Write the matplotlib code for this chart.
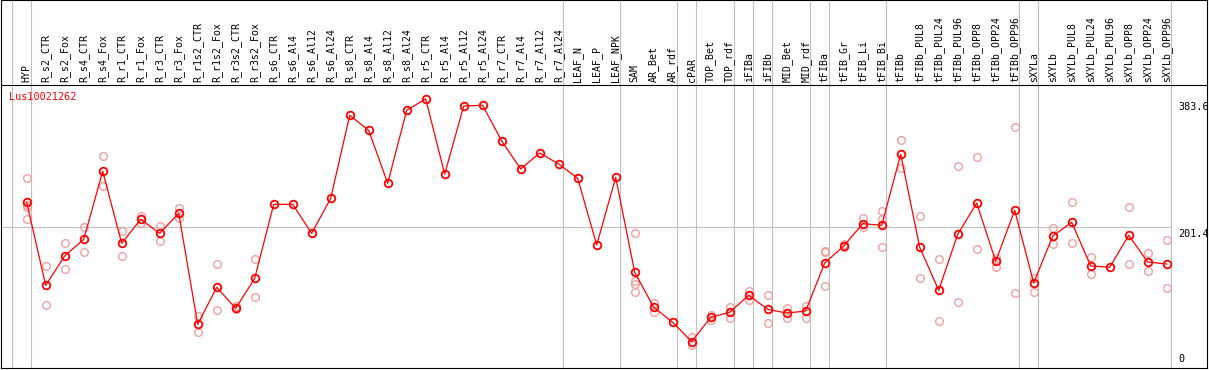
import numpy as np
import matplotlib
matplotlib.use("Agg")
import matplotlib.pyplot as plt

plt.rcParams["font.family"] = ["DejaVu Sans Mono"]

# 样本名称
categories = [
    "HYP", "R_s2_CTR", "R_s2_Fox", "R_s4_CTR", "R_s4_Fox", "R_r1_CTR", "R_r1_Fox",
    "R_r3_CTR", "R_r3_Fox", "R_r1s2_CTR", "R_r1s2_Fox", "R_r3s2_CTR", "R_r3s2_Fox",
    "R_s6_CTR", "R_s6_Al4", "R_s6_Al12", "R_s6_Al24", "R_s8_CTR", "R_s8_Al4",
    "R_s8_Al12", "R_s8_Al24", "R_r5_CTR", "R_r5_Al4", "R_r5_Al12", "R_r5_Al24",
    "R_r7_CTR", "R_r7_Al4", "R_r7_Al12", "R_r7_Al24", "LEAF_N", "LEAF_P", "LEAF_NPK",
    "SAM", "AR_Bet", "AR_rdf", "cPAR", "TOP_Bet", "TOP_rdf", "iFIBa", "iFIBb",
    "MID_Bet", "MID_rdf", "tFIBa", "tFIB_Gr", "tFIB_Li", "tFIB_Bi", "tFIBb",
    "tFIBb_PUL8", "tFIBb_PUL24", "tFIBb_PUL96", "tFIBb_OPP8", "tFIBb_OPP24",
    "tFIBb_OPP96", "sXYLa", "sXYLb", "sXYLb_PUL8", "sXYLb_PUL24", "sXYLb_PUL96",
    "sXYLb_OPP8", "sXYLb_OPP24", "sXYLb_OPP96",
]

# 平均值
means = [
    237, 119.3, 160.9, 184.5, 280.9, 178.9, 212.9, 193, 221.4, 64, 116.5, 86.7, 129.2,
    234.1, 234.1, 193, 242.6, 360.3, 339, 263.9, 367.4, 383.6, 277, 373.5, 374.5,
    323.9, 284.2, 306.9, 291.3, 271, 176.5, 272.4,
    137.8, 88.2, 66.9, 39.4, 74, 81, 105.2, 85.3, 80, 82.9,
    151, 175, 206.7, 204.4, 305, 173.2, 112.3, 191.6, 236, 153.4, 225.7,
    122.6, 189.2, 208.6, 146.7, 144.9, 190.2, 152.4, 149.5,
]

# 重复样本值
reps = [
    [272, 233, 230, 214],
    [146.7, 91.4],
    [178.9, 142],
    [201.5, 166.1],
    [302.2, 259.7],
    [195.9, 160.4],
    [218, 207],
    [203.4, 181.7],
    [229.4, 214.3],
    [75.8, 52.7],
    [149.5, 84.3],
    [90, 86],
    [156.2, 102.3],
    [], [], [], [], [], [], [], [], [], [], [], [], [], [], [], [], [], [], [],
    [194, 125.4, 120.7, 109.4],
    [94.7, 81],
    [],
    [46.5, 34.7],
    [77, 70],
    [88.6, 72.5],
    [111.7, 99],
    [105.2, 65.5],
    [87.2, 73],
    [90, 73.4],
    [168, 166, 119],
    [178.3, 174],
    [214.3, 202],
    [224.7, 212.9, 173.2],
    [324.9, 285.2],
    [217.6, 129.2],
    [156.2, 68.7],
    [288, 95.7],
    [300.8, 170.8],
    [158.5, 145.8],
    [343.3, 108.4],
    [130.2, 109.9],
    [201, 177.9],
    [237, 178.9],
    [159, 134.9],
    [],
    [229.9, 149.5],
    [164.7, 139.2],
    [183.1, 115.1],
]

# 分组边界（在该索引之后）
group_ends = [-1, 0, 28, 31, 34, 35, 37, 38, 39, 41, 42, 45, 52, 53, 60]
y_ticks = [0, 201.4, 383.6]
title = "Lus10021262"

W, H = 1209, 370
fig = plt.figure(figsize=(W / 100, H / 100), dpi=100)
ax = fig.add_axes([1 / W, 2 / H, 1206 / W, 368 / H])

# 像素 -> 数据
def ypx(p):
    return (369.5 - p) / 0.7055

x = np.arange(len(categories))
ax.set_xlim((1 - 26.7) / 19, (1207 - 26.7) / 19)
ax.set_ylim(ypx(368), ypx(0))
ax.set_xticks([])
ax.set_yticks([])
for s in ax.spines.values():
    s.set_linewidth(0.8)
    s.set_color("black")

grid_c = "#c0c0c0"
for g in group_ends:
    ax.axvline(g + 0.2, color=grid_c, lw=0.8, zorder=1)
ax.plot([ax.get_xlim()[0], 60.2], [201.4, 201.4], color=grid_c, lw=0.8, zorder=1)
ax.axhline(ypx(85), color="black", lw=0.8, zorder=2)

# 重复样本
for i, r in enumerate(reps):
    if r:
        ax.plot([i] * len(r), r, linestyle="none", marker="o", markersize=5.5,
                markerfacecolor="none", markeredgecolor="#f0a0a0", markeredgewidth=1.0, zorder=3)

ax.plot(x, means, color="red", lw=0.9, marker="o", markersize=5.5,
        markerfacecolor="none", markeredgecolor="red", markeredgewidth=1.3, zorder=4)

for i, c in enumerate(categories):
    ax.text(i, ypx(82.5), c, rotation=90, ha="center", va="bottom", fontsize=7.1, color="black")

offsets = {0: (5, "bottom"), 201.4: (-1.5, "top"), 383.6: (-3, "top")}
for t in y_ticks:
    dy, va = offsets[t]
    ax.annotate(f"{t:g}", xy=(60.6, t), xytext=(0, dy * 0.72), textcoords="offset points",
                ha="left", va=va, fontsize=7.3, color="black", annotation_clip=False)

fig.text(9 / W, 1 - 92 / H, title, color="red", ha="left", va="top", fontsize=7.3)

fig.savefig("out.png", dpi=100)
